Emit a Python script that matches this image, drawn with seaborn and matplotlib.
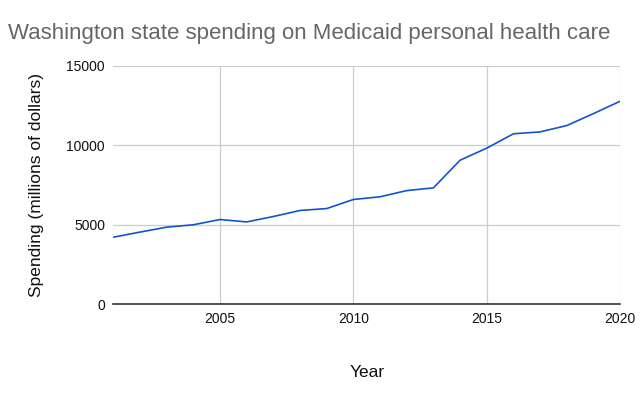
import matplotlib.pyplot as plt
import pandas as pd
import seaborn as sns

# data
years = list(range(2001, 2021))
spending = [4210, 4530, 4840, 4990, 5320, 5170, 5510, 5890, 6010, 6580,
            6750, 7140, 7310, 9050, 9810, 10710, 10830, 11230, 11980, 12760]
y_ticks = [0, 5000, 10000, 15000]
x_ticks = [2005, 2010, 2015, 2020]

df = pd.DataFrame({'Year': years, 'Spending': spending})

sns.set_style('white')
plt.rcParams['font.family'] = ['Liberation Sans', 'DejaVu Sans']

fig = plt.figure(figsize=(6.4, 3.95), dpi=100)
ax = fig.add_axes([0.177, 0.23, 0.792, 0.604])

sns.lineplot(data=df, x='Year', y='Spending', color='#1155cc', linewidth=1.2, ax=ax)

ax.set_xlim(2001, 2020)
ax.set_ylim(0, 15000)
ax.set_xticks(x_ticks)
ax.set_yticks(y_ticks)
ax.grid(True, color='#cccccc', linewidth=0.9)
ax.tick_params(length=0, labelsize=10, labelcolor='#111111', pad=6)
for side in ['top', 'right', 'left']:
    ax.spines[side].set_visible(False)
ax.spines['bottom'].set_color('#333333')
ax.spines['bottom'].set_linewidth(1.2)

ax.set_xlabel('Year', fontsize=12.5, color='#111111', labelpad=28)
ax.set_ylabel('Spending (millions of dollars)', fontsize=12.5, color='#111111', labelpad=16)
fig.text(0.012, 0.915, 'Washington state spending on Medicaid personal health care',
         fontsize=16, color='#666666', ha='left', va='center')

fig.savefig('out.png', dpi=100)
